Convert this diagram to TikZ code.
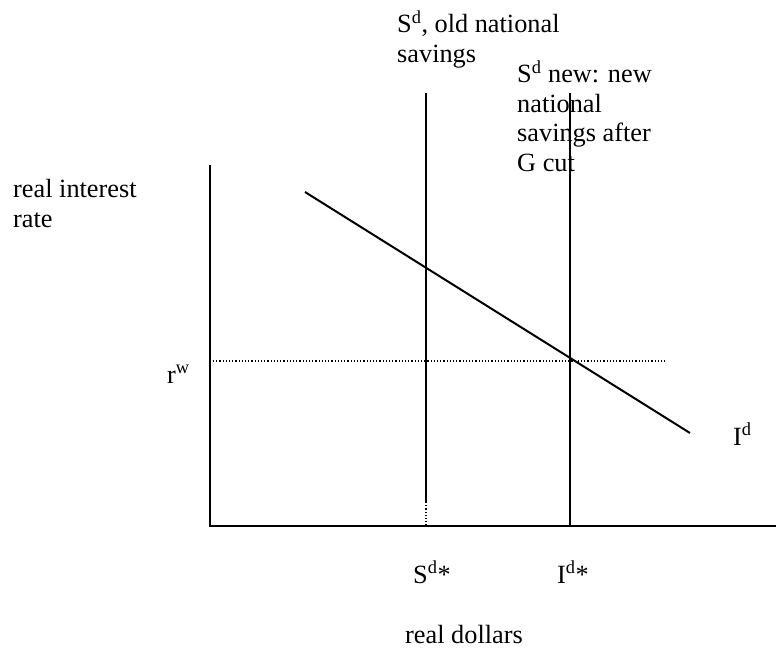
\documentclass[tikz,border=0pt]{standalone}
\usepackage{fontspec}
\setmainfont{Liberation Serif}
\begin{document}
\begin{tikzpicture}[x=1pt,y=-1pt,
  lbl/.style={anchor=base west,inner sep=0pt,align=left,font=\fontsize{26.3}{29.5}\selectfont},
  curve/.style={line width=2pt},
  dots/.style={line width=1.1pt,dash pattern=on 1.2pt off 2pt}]
\useasboundingbox (0,0) rectangle (776,654);
% coordinates
\coordinate (O) at (210,526);
\coordinate (ytop) at (210,165);
\coordinate (xend) at (776,526);
\coordinate (soldtop) at (426,93);
\coordinate (soldmid) at (426,502);
\coordinate (soldbot) at (426,526);
\coordinate (snewtop) at (570,93);
\coordinate (snewbot) at (570,526);
\coordinate (ids) at (305,192);
\coordinate (ide) at (690,433);
\coordinate (rws) at (213,361);
\coordinate (rwe) at (665,361);
% axes
\draw[curve] (ytop) -- (O) -- (xend);
% supply lines
\draw[curve] (soldtop) -- (soldmid);
\draw[dots] (soldmid) -- (soldbot);
\draw[curve] (snewtop) -- (snewbot);
% demand
\draw[curve] (ids) -- (ide);
% world rate
\draw[dots] (rws) -- (rwe);
% labels (base anchor = baseline of last line)
\node[lbl] (ylab) at (13,227) {real interest\\rate};
\node[lbl] (sold) at (397,62) {S\textsuperscript{d}, old national\\savings};
\node[lbl] (snew) at (517,171) {S\textsuperscript{d} new: new\\national\\savings after\\G cut};
\node[lbl] (rw) at (167,383) {r\textsuperscript{w}};
\node[lbl] (sstar) at (413,583) {S\textsuperscript{d}*};
\node[lbl] (istar) at (557,583) {I\textsuperscript{d}*};
\node[lbl] (xlab) at (405,643) {real dollars};
\node[lbl] (Id) at (733,445) {I\textsuperscript{d}};
\end{tikzpicture}
\end{document}
